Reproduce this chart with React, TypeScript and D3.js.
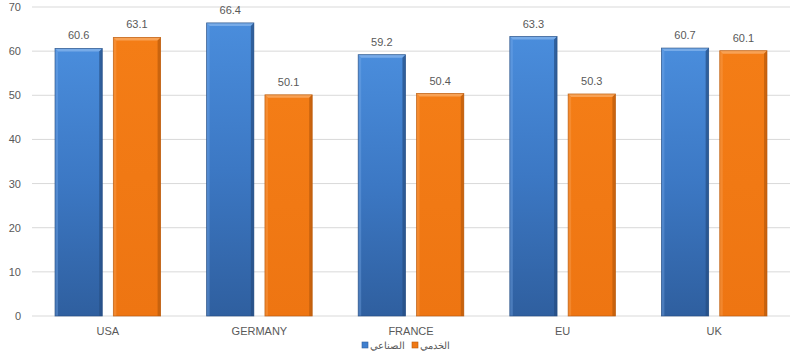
import React from "react";
import * as d3 from "d3";

const categories = ["USA", "GERMANY", "FRANCE", "EU", "UK"];
const seriesNames = ["الصناعي", "الخدمي"];
const industrial = [60.6, 66.4, 59.2, 63.3, 60.7];
const services = [63.1, 50.1, 50.4, 50.3, 60.1];
const yTicks = [0, 10, 20, 30, 40, 50, 60, 70];

const W = 803;
const H = 357;
const FONT = "'Liberation Sans', Arial, sans-serif";
const TEXT = "#595959";

export default function App() {
  const x = d3.scaleBand<string>().domain(categories).range([32, 790]).padding(0);
  const inner = d3
    .scaleBand<string>()
    .domain(seriesNames)
    .range([23, x.bandwidth() - 23])
    .paddingInner(0.19);
  const y = d3.scaleLinear().domain([0, 70]).range([316, 7]);
  const seriesValues = [industrial, services];
  const grads = ["gBlue", "gOrange"];
  const edgeDark = ["#254d82", "#b85a0c"];
  const edgeLight = ["#7fb0ea", "#f8a860"];
  const legendColors = ["#3f7fcf", "#f07814"];

  return (
    <svg
      width={W}
      height={H}
      style={{ position: "absolute", left: 0, top: 0, background: "#fff" }}
      fontFamily={FONT}
    >
      <defs>
        <linearGradient id="gBlue" x1="0" y1="0" x2="0" y2="1">
          <stop offset="0" stopColor="#4a8ddc" />
          <stop offset="0.5" stopColor="#3c78c4" />
          <stop offset="1" stopColor="#2f5f9f" />
        </linearGradient>
        <linearGradient id="gOrange" x1="0" y1="0" x2="0" y2="1">
          <stop offset="0" stopColor="#f47d16" />
          <stop offset="1" stopColor="#ee7512" />
        </linearGradient>
      </defs>
      {yTicks.map((t) => (
        <g key={t}>
          <line x1={32} x2={790} y1={y(t)} y2={y(t)} stroke="#d9d9d9" strokeWidth={1} />
          <text x={21} y={y(t) + 4} textAnchor="end" fontSize={11} fill={TEXT}>
            {t}
          </text>
        </g>
      ))}
      {categories.map((c, ci) => (
        <g key={c}>
          {seriesNames.map((s, si) => {
            const v = seriesValues[si][ci];
            const bx = (x(c) as number) + (inner(s) as number);
            const bw = inner.bandwidth();
            const top = y(v);
            const bh = y(0) - top;
            const b = 3;
            return (
              <g key={s}>
                <rect x={bx} y={top} width={bw} height={bh} fill={`url(#${grads[si]})`} />
                <polygon
                  points={`${bx},${top} ${bx + bw},${top} ${bx + bw - b},${top + b} ${bx + b},${top + b}`}
                  fill={edgeLight[si]}
                  opacity={0.85}
                />
                <polygon
                  points={`${bx},${top} ${bx + b},${top + b} ${bx + b},${y(0)} ${bx},${y(0)}`}
                  fill={edgeLight[si]}
                  opacity={0.35}
                />
                <polygon
                  points={`${bx + bw},${top} ${bx + bw - b},${top + b} ${bx + bw - b},${y(0)} ${bx + bw},${y(0)}`}
                  fill={edgeDark[si]}
                  opacity={0.7}
                />
                <rect x={bx} y={top} width={bw} height={bh} fill="none" stroke={edgeDark[si]} strokeWidth={0.8} opacity={0.8} />
                <text x={bx + bw / 2} y={top - 9} textAnchor="middle" fontSize={11} fill={TEXT}>
                  {v.toFixed(1)}
                </text>
              </g>
            );
          })}
          <text
            x={(x(c) as number) + x.bandwidth() / 2}
            y={335}
            textAnchor="middle"
            fontSize={11}
            fill={TEXT}
          >
            {c}
          </text>
        </g>
      ))}
      <g>
        {[
          { name: seriesNames[0], color: legendColors[0], x0: 362 },
          { name: seriesNames[1], color: legendColors[1], x0: 412 },
        ].map((it) => (
          <g key={it.name}>
            <rect x={it.x0} y={342} width={6} height={6} fill={it.color} stroke={it.color === legendColors[0] ? "#2f5f9f" : "#b85a0c"} strokeWidth={0.6} />
            <text x={it.x0 + 8} y={349} fontSize={10} fill={TEXT} direction="rtl" textAnchor="end">
              {it.name}
            </text>
          </g>
        ))}
      </g>
    </svg>
  );
}
